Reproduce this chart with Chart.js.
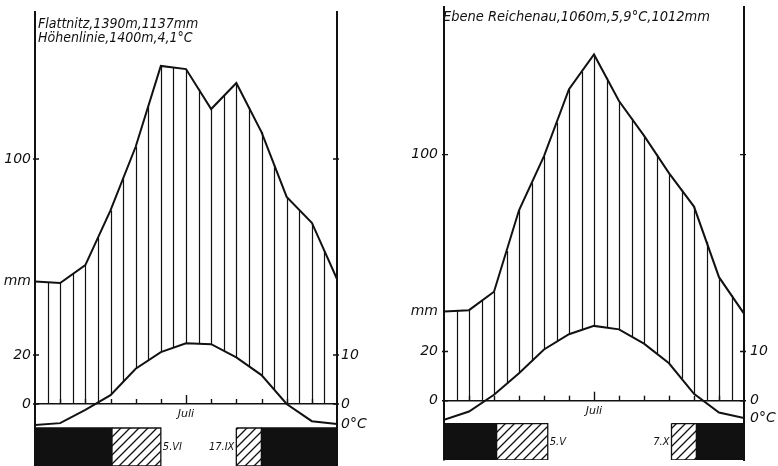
<!DOCTYPE html>
<html>
<head>
<meta charset="utf-8">
<script src="https://cdn.jsdelivr.net/npm/chart.js@4.4.0/dist/chart.umd.min.js"></script>
<style>
  html, body { margin: 0; padding: 0; background: #fff; }
  #wrap { position: relative; width: 778px; height: 466px; overflow: hidden; }
  .box { position: absolute; top: 0; width: 389px; height: 466px; }
  #boxL { left: 0; }
  #boxR { left: 389px; }
</style>
</head>
<body>
<div id="wrap">
  <div class="box" id="boxL"><canvas id="chartL" width="389" height="466"></canvas></div>
  <div class="box" id="boxR"><canvas id="chartR" width="389" height="466"></canvas></div>
</div>
<script>
// Monatspositionen: 0 = Januar ... 12 = wieder Januar
const monthPos = [0, 1, 2, 3, 4, 5, 6, 7, 8, 9, 10, 11, 12];
const monthTicks = [1, 2, 3, 4, 5, 6, 7, 8, 9, 10, 11];
const julyPos = 6;
const julyLabel = 'Juli';

const mmTickLabels = [0, 20, 100];
const degTickLabels = [0, 10];

// --- Flattnitz ---
const titleFlattnitz = ['Flattnitz,1390m,1137mm', 'Höhenlinie,1400m,4,1°C'];
const precipFlattnitz = [50, 49.4, 56.7, 79, 105, 138, 136.7, 120.4, 131, 111, 84.5, 74, 51];
const tempFlattnitz = [-4.3, -3.9, -1.2, 1.8, 7.2, 10.6, 12.4, 12.2, 9.5, 5.9, 0, -3.5, -4.1];
const frostBlackFlattnitz = [[0, 3.05], [9, 12]];
const frostHatchFlattnitz = [[3.05, 5], [8, 9]];
const frostDatesFlattnitz = ['5.VI', '17.IX'];

// --- Ebene Reichenau ---
const titleReichenau = ['Ebene Reichenau,1060m,5,9°C,1012mm'];
const precipReichenau = [36.2, 36.8, 44.3, 77.4, 99.4, 126.6, 140.7, 121.8, 107.7, 92.5, 78.9, 50.2, 35.4];
const tempReichenau = [-3.9, -2.2, 1.2, 5.6, 10.4, 13.5, 15.2, 14.5, 11.6, 7.6, 1.4, -2.4, -3.5];
const frostBlackReichenau = [[0, 2.1], [10.1, 12.1]];
const frostHatchReichenau = [[2.1, 4.15], [9.1, 10.1]];
const frostDatesReichenau = ['5.V', '7.X'];

const INK = '#111';
const FONT = "'DejaVu Sans', sans-serif";
const FONT_NARROW = "'DejaVu Sans Condensed', 'DejaVu Sans', sans-serif";

function makeHatch() {
    const c = document.createElement('canvas');
    c.width = 9; c.height = 9;
    const p = c.getContext('2d');
    p.strokeStyle = INK;
    p.lineWidth = 1.3;
    p.beginPath();
    p.moveTo(0, 9); p.lineTo(9, 0);
    p.moveTo(-4.5, 4.5); p.lineTo(4.5, -4.5);
    p.moveTo(4.5, 13.5); p.lineTo(13.5, 4.5);
    p.stroke();
    return p.createPattern(c, 'repeat');
}

function lerp(arr, k) {
    const i = Math.min(Math.floor(k), arr.length - 2);
    const t = k - i;
    return arr[i] + (arr[i + 1] - arr[i]) * t;
}

function climateChart(id, d, g) {
    const ctx = document.getElementById(id).getContext('2d');
    const hatch = makeHatch();

    const rect = (r) => [
        {x: r[0], y: g.stripTop}, {x: r[1], y: g.stripTop},
        {x: r[1], y: g.stripBottom}, {x: r[0], y: g.stripBottom},
        {x: r[0], y: g.stripTop}
    ];
    const strip = (r, fill) => ({
        data: rect(r), yAxisID: 'y', fill: 'shape',
        backgroundColor: fill, borderColor: INK, borderWidth: 1.3,
        pointRadius: 0, tension: 0
    });

    const datasets = [
        {
            label: 'Niederschlag',
            data: monthPos.map((m, i) => ({x: m, y: d.precip[i]})),
            yAxisID: 'y', borderColor: INK, borderWidth: 2, pointRadius: 0, tension: 0, fill: false
        },
        {
            label: 'Temperatur',
            data: monthPos.map((m, i) => ({x: m, y: d.temp[i]})),
            yAxisID: 'y1', borderColor: INK, borderWidth: 2, pointRadius: 0, tension: 0, fill: false
        }
    ];
    d.black.forEach(r => datasets.push(strip(r, INK)));
    d.hatch.forEach(r => datasets.push(strip(r, hatch)));

    // senkrechte Schraffur zwischen Niederschlags- und Temperaturkurve
    const humidPlugin = {
        id: 'humid',
        beforeDatasetsDraw(chart) {
            const {ctx, scales: {x, y, y1}} = chart;
            const zero = y.getPixelForValue(0);
            ctx.save();
            ctx.strokeStyle = INK;
            ctx.lineWidth = 1.2;
            for (let k = 0.5; k < 12; k += 0.5) {
                const top = y.getPixelForValue(lerp(d.precip, k));
                const bottom = Math.min(y1.getPixelForValue(lerp(d.temp, k)), zero);
                if (bottom <= top) continue;
                const px = Math.round(x.getPixelForValue(k)) + 0.5;
                ctx.beginPath();
                ctx.moveTo(px, top);
                ctx.lineTo(px, bottom);
                ctx.stroke();
            }
            ctx.restore();
        }
    };

    // Achsenstriche, Beschriftungen
    const decoPlugin = {
        id: 'deco',
        afterDatasetsDraw(chart) {
            const {ctx, chartArea: a, scales: {x, y, y1}} = chart;
            const zero = y.getPixelForValue(0);
            ctx.save();
            ctx.strokeStyle = INK;
            ctx.lineWidth = 1.4;
            y.ticks.filter(t => t.value >= 0).forEach(t => {
                const py = y.getPixelForValue(t.value);
                ctx.beginPath();
                ctx.moveTo(a.left - 2, py); ctx.lineTo(a.left + 4, py);
                ctx.moveTo(a.right + 2, py); ctx.lineTo(a.right - 4, py);
                ctx.stroke();
            });
            monthTicks.forEach(m => {
                const px = Math.round(x.getPixelForValue(m)) + 0.5;
                ctx.beginPath();
                ctx.moveTo(px, zero);
                ctx.lineTo(px, zero - (m === julyPos ? 9 : 5));
                ctx.stroke();
            });

            ctx.fillStyle = INK;
            ctx.textBaseline = 'alphabetic';
            ctx.textAlign = 'left';
            ctx.font = 'italic ' + g.titleSize + 'px ' + FONT_NARROW;
            d.title.forEach((t, i) => ctx.fillText(t, g.titleX, g.titleY[i]));

            ctx.textAlign = 'center';
            ctx.font = 'italic 11px ' + FONT;
            ctx.fillText(julyLabel, x.getPixelForValue(julyPos), zero + g.julyDy);

            ctx.textBaseline = 'middle';
            ctx.font = 'italic 14px ' + FONT;
            ctx.textAlign = 'right';
            ctx.fillText('mm', a.left - g.labelPad, y.getPixelForValue(d.precip[0]));
            ctx.textAlign = 'left';
            ctx.fillText('0°C', a.right + g.labelPad, y1.getPixelForValue(d.temp[d.temp.length - 1]));

            const mid = (y.getPixelForValue(g.stripTop) + y.getPixelForValue(g.stripBottom)) / 2;
            ctx.font = 'italic 11px ' + FONT_NARROW;
            ctx.textAlign = 'left';
            ctx.fillText(d.dates[0], x.getPixelForValue(d.hatch[0][1]) + 2, mid);
            ctx.textAlign = 'right';
            ctx.fillText(d.dates[1], x.getPixelForValue(d.hatch[1][0]) - 2, mid);
            ctx.restore();
        }
    };

    const tickFont = {family: FONT, size: 14, style: 'italic'};
    // Skalenbreite fest, keine Zusatzabstände für Beschriftungen
    const fitTo = (w) => (s) => { s.width = w; s.paddingTop = 0; s.paddingBottom = 0; };

    return new Chart(ctx, {
        type: 'line',
        data: {datasets: datasets},
        options: {
            responsive: false,
            animation: false,
            devicePixelRatio: 1,
            layout: {padding: {top: g.top, bottom: g.bottom, left: 0, right: 0}},
            plugins: {legend: {display: false}, tooltip: {enabled: false}, title: {display: false}},
            scales: {
                x: {type: 'linear', min: 0, max: 12, display: false},
                y: {
                    type: 'linear', position: 'left', min: g.yMin, max: 160,
                    afterFit: fitTo(g.leftW),
                    border: {display: true, color: INK, width: 2},
                    grid: {
                        drawTicks: false,
                        color: c => (c.tick && c.tick.value === 0) ? INK : 'rgba(0,0,0,0)',
                        lineWidth: 1.6
                    },
                    ticks: {
                        stepSize: 20, autoSkip: false, padding: g.labelPad, color: INK, font: tickFont,
                        callback: v => mmTickLabels.includes(v) ? String(v) : null
                    }
                },
                y1: {
                    type: 'linear', position: 'right', min: g.yMin / 2, max: 80,
                    afterFit: fitTo(g.rightW),
                    border: {display: true, color: INK, width: 2},
                    grid: {display: false, drawTicks: false},
                    ticks: {
                        stepSize: 10, autoSkip: false, padding: g.labelPad, color: INK, font: tickFont,
                        callback: v => degTickLabels.includes(v) ? String(v) : null
                    }
                }
            }
        },
        plugins: [humidPlugin, decoPlugin]
    });
}

climateChart('chartL', {
    title: titleFlattnitz, precip: precipFlattnitz, temp: tempFlattnitz,
    black: frostBlackFlattnitz, hatch: frostHatchFlattnitz, dates: frostDatesFlattnitz
}, {
    leftW: 35, rightW: 52, top: 12, bottom: 0, yMin: -25.3,
    stripTop: -9.8, stripBottom: -25.3, titleX: 38, titleY: [28, 42], titleSize: 14,
    julyDy: 13, labelPad: 4
});

climateChart('chartR', {
    title: titleReichenau, precip: precipReichenau, temp: tempReichenau,
    black: frostBlackReichenau, hatch: frostHatchReichenau, dates: frostDatesReichenau
}, {
    leftW: 55, rightW: 34, top: 7, bottom: 6, yMin: -24.1,
    stripTop: -9.3, stripBottom: -24.1, titleX: 54, titleY: [21], titleSize: 14.5,
    julyDy: 13, labelPad: 6
});
</script>
</body>
</html>
